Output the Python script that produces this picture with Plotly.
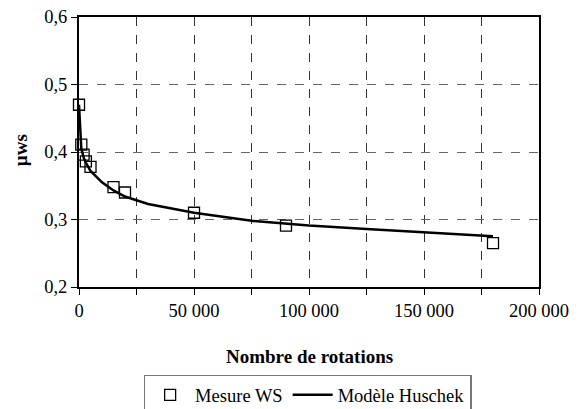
import plotly.graph_objects as go

# Measured data (Mesure WS)
meas_x = [0, 1000, 2000, 3000, 5000, 15000, 20000, 50000, 90000, 180000]
meas_y = [0.47, 0.411, 0.396, 0.386, 0.378, 0.348, 0.340, 0.310, 0.291, 0.265]

# Model curve (Modèle Huschek)
model_x = [0, 1000, 2000, 3000, 5000, 10000, 15000, 20000, 30000, 50000, 75000, 100000, 125000, 150000, 180000]
model_y = [0.47, 0.405, 0.392, 0.384, 0.372, 0.355, 0.343, 0.334, 0.323, 0.310, 0.298, 0.291, 0.286, 0.281, 0.275]

x_tickvals = [0, 25000, 50000, 75000, 100000, 125000, 150000, 175000, 200000]
x_ticktext = ["0", "", "50 000", "", "100 000", "", "150 000", "", "200 000"]
y_tickvals = [0.2, 0.3, 0.4, 0.5, 0.6]
y_ticktext = ["0,2", "0,3", "0,4", "0,5", "0,6"]

FONT = "Liberation Serif"

fig = go.Figure()
fig.add_trace(go.Scatter(
    x=meas_x, y=meas_y, mode="markers", name="Mesure WS",
    marker=dict(symbol="square-open", size=11, color="black", line=dict(width=1.3, color="black")),
    cliponaxis=False,
))
fig.add_trace(go.Scatter(
    x=model_x, y=model_y, mode="lines", name="Modèle Huschek",
    line=dict(color="black", width=2.5),
    cliponaxis=False,
))

fig.update_layout(
    width=581, height=409,
    margin=dict(l=79, r=42, t=17, b=122, autoexpand=False),
    paper_bgcolor="white", plot_bgcolor="white",
    font=dict(family=FONT, size=18, color="black"),
    showlegend=True,
    legend=dict(
        orientation="h", x=0.497, xanchor="center", y=-0.325, yanchor="top",
        bordercolor="#777777", borderwidth=1.5, bgcolor="white",
        font=dict(family=FONT, size=18.5, color="black"),
        itemwidth=40, tracegroupgap=0,
    ),
    xaxis=dict(
        range=[0, 200000], tickvals=x_tickvals, ticktext=x_ticktext,
        showgrid=True, gridcolor="#333333", griddash="dash", gridwidth=1,
        showline=True, linecolor="black", linewidth=2, mirror=True,
        ticks="outside", ticklen=6, tickcolor="black", tickwidth=1,
        zeroline=False, tickfont=dict(family=FONT, size=18.5),
    ),
    yaxis=dict(
        range=[0.2, 0.6], tickvals=y_tickvals, ticktext=y_ticktext,
        showgrid=True, gridcolor="#666666", griddash="dash", gridwidth=1,
        showline=True, linecolor="black", linewidth=2, mirror=True,
        ticks="outside", ticklen=6, tickcolor="black", tickwidth=1,
        zeroline=False, tickfont=dict(family=FONT, size=18.5),
    ),
    annotations=[
        dict(text="<b>Nombre de rotations</b>", xref="paper", yref="paper",
             x=0.5, y=-0.259, xanchor="center", yanchor="middle",
             showarrow=False, font=dict(family=FONT, size=19)),
        dict(text="<b>µws</b>", xref="paper", yref="paper",
             x=-0.128, y=0.507, xanchor="center", yanchor="middle",
             textangle=-90, showarrow=False, font=dict(family=FONT, size=19)),
    ],
)

fig.write_html("out.html", config={"displayModeBar": False},
               post_script="document.body.style.margin='0';document.body.style.overflow='hidden';")
